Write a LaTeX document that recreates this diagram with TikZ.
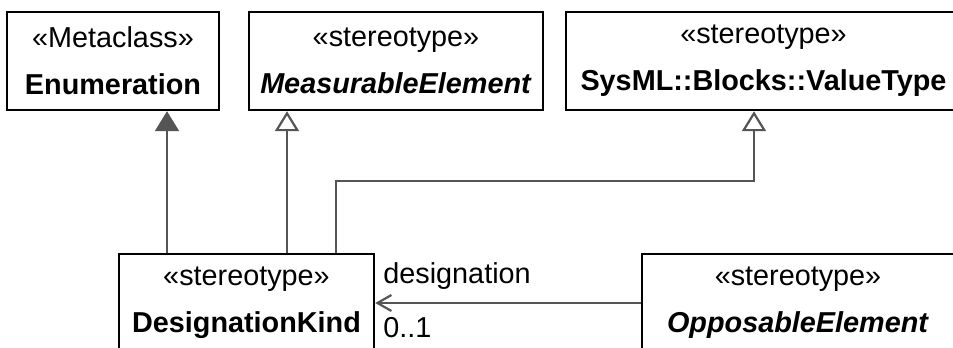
\documentclass[tikz,border=0pt]{standalone}
\usepackage{fontspec}
\setmainfont{Liberation Sans}
\usetikzlibrary{arrows.meta}
\definecolor{linegray}{HTML}{555555}
\tikzset{
  umlbox/.style={draw, line width=1.2pt, rectangle, align=center, inner sep=0pt,
    minimum height=49pt, font=\fontsize{14.4}{23.5}\selectfont},
  gen/.style={draw=linegray, line width=1.1pt, -{Triangle[open, length=10pt, width=12pt]}},
  meta/.style={draw=linegray, line width=1.1pt, -{Triangle[length=10pt, width=12pt]}, fill=none},
  assoc/.style={draw=linegray, line width=1.1pt, -{Straight Barb[length=7pt, width=8pt]}},
  lbl/.style={inner sep=0pt, anchor=base west, font=\fontsize{14.4}{17}\selectfont}
}
\begin{document}
\begin{tikzpicture}[x=0.5pt, y=-0.5pt]
\useasboundingbox (0,0) rectangle (953,348);
\clip (0,0) rectangle (953,348);

\node[umlbox, minimum width=106pt] (enum) at (113,61) {«Metaclass»\\\textbf{Enumeration}};
\node[umlbox, minimum width=147pt] (meas) at (396,61) {«stereotype»\\\textbf{\textit{MeasurableElement}}};
\node[umlbox, minimum width=197.5pt] (vtype) at (763.5,61) {«stereotype»\\\textbf{SysML::Blocks::ValueType}};
\node[umlbox, minimum width=127.5pt] (dk) at (246.5,303) {«stereotype»\\\textbf{DesignationKind}};
\node[umlbox, minimum width=156pt] (oe) at (798,303) {«stereotype»\\\textbf{\textit{OpposableElement}}};

\coordinate (enumx) at (167,0);
\coordinate (measx) at (287,0);
\coordinate (vtleg) at (336,181);
\coordinate (vtbend) at (754,181);

\path[meta] (dk.north -| enumx) -- (enum.south -| enumx);
\path[gen] (dk.north -| measx) -- (meas.south -| measx);
\path[gen] (dk.north -| vtleg) -- (vtleg) -- (vtbend) -- (vtype.south -| vtbend);
\path[assoc] (oe.west) -- (dk.east);

\node[lbl] (desig) at (383,283) {designation};
\node[lbl] (mult) at (383,337) {0..1};
\end{tikzpicture}
\end{document}
